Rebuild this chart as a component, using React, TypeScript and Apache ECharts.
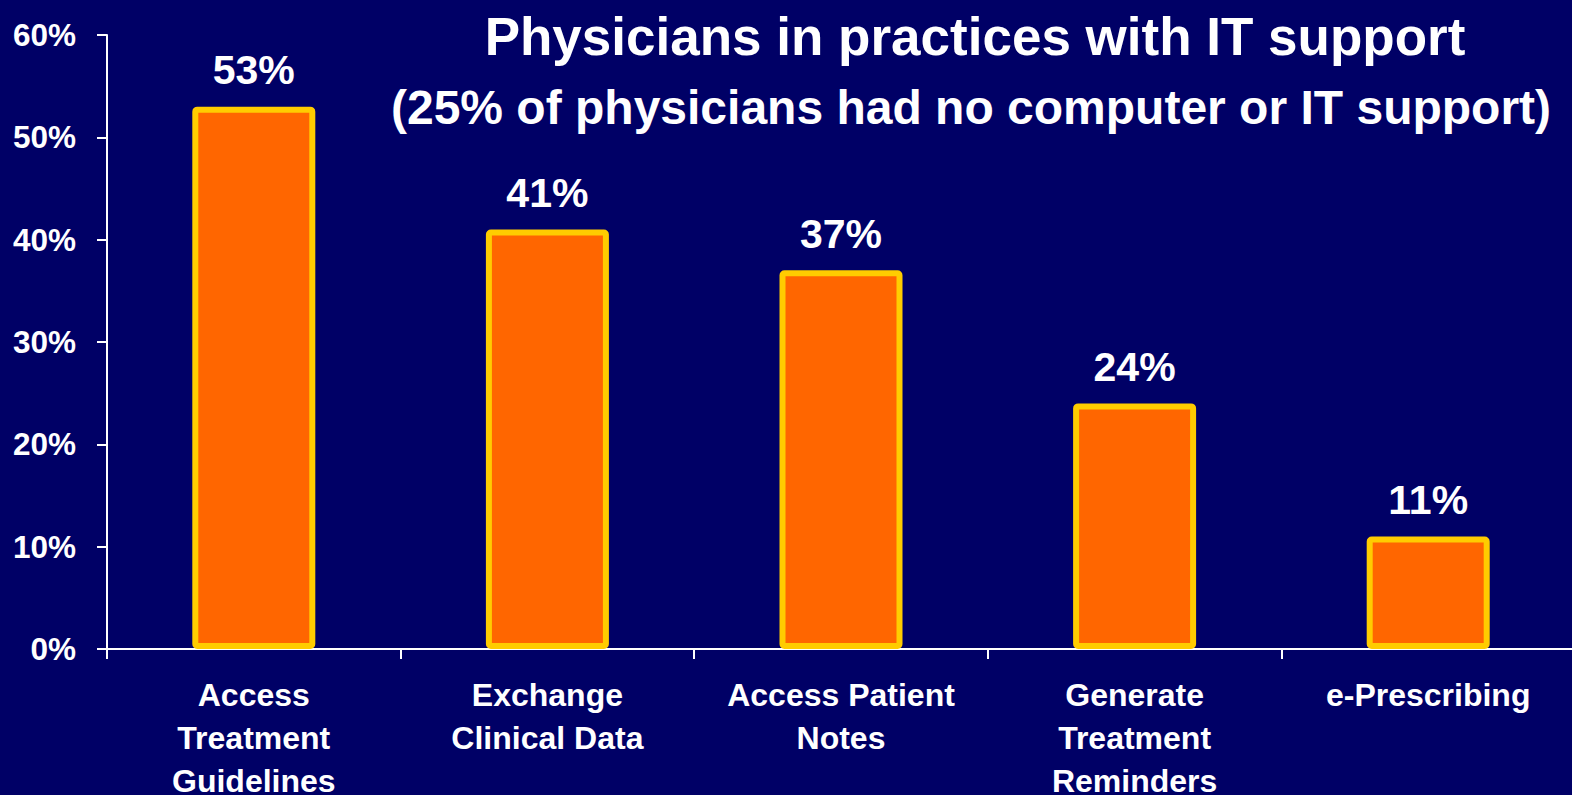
import React, { useEffect, useRef } from "react";
import * as echarts from "echarts";

const categories = [
  "Access\nTreatment\nGuidelines",
  "Exchange\nClinical Data",
  "Access Patient\nNotes",
  "Generate\nTreatment\nReminders",
  "e-Prescribing",
];
const values = [53, 41, 37, 24, 11];
const titleLine1 = "Physicians in practices with IT support";
const titleLine2 = "(25% of physicians had no computer or IT support)";

const FONT = "'Liberation Sans', Arial, sans-serif";

export default function App() {
  const ref = useRef<HTMLDivElement>(null);
  useEffect(() => {
    document.body.style.margin = "0";
    const chart = echarts.init(ref.current!, null, { renderer: "svg" });
    const shadow = {
      fill: "#ffffff",
      textAlign: "center",
      textVerticalAlign: "middle",
      textShadowColor: "#000000",
      textShadowOffsetX: 3,
      textShadowOffsetY: 3,
      textShadowBlur: 0,
    };
    chart.setOption({
      animation: false,
      backgroundColor: "#000066",
      grid: {
        left: 107,
        right: -3,
        top: 35,
        bottom: 146,
        containLabel: false,
        outerBoundsMode: "none",
      },
      xAxis: {
        type: "category",
        data: categories,
        axisLine: { show: true, lineStyle: { color: "#ffffff", width: 2 } },
        axisTick: { show: true, length: 10, lineStyle: { color: "#ffffff", width: 2 } },
        axisLabel: {
          color: "#ffffff",
          fontFamily: FONT,
          fontWeight: "bold",
          fontSize: 32,
          lineHeight: 43,
          margin: 24,
          interval: 0,
        },
      },
      yAxis: {
        type: "value",
        min: 0,
        max: 60,
        interval: 10,
        axisLine: { show: true, lineStyle: { color: "#ffffff", width: 2 } },
        axisTick: { show: true, length: 10, lineStyle: { color: "#ffffff", width: 2 } },
        splitLine: { show: false },
        axisLabel: {
          color: "#ffffff",
          fontFamily: FONT,
          fontWeight: "bold",
          fontSize: 31.5,
          margin: 31,
          formatter: "{value}%",
        },
      },
      series: [
        {
          type: "bar",
          data: values,
          barWidth: 123,
          itemStyle: {
            color: "#FF6600",
            borderColor: "#FFCC00",
            borderWidth: 6,
            borderRadius: 2,
          },
          label: {
            show: true,
            position: "top",
            distance: 16,
            formatter: "{c}%",
            color: "#ffffff",
            fontFamily: FONT,
            fontWeight: "bold",
            fontSize: 41,
          },
        },
      ],
      graphic: [
        {
          type: "text",
          x: 975,
          y: 36,
          style: { ...shadow, text: titleLine1, font: `bold 53px ${FONT}` },
        },
        {
          type: "text",
          x: 971,
          y: 107,
          style: { ...shadow, text: titleLine2, font: `bold 48px ${FONT}` },
        },
      ],
    });
    return () => chart.dispose();
  }, []);
  return (
    <div
      ref={ref}
      style={{ position: "fixed", left: 0, top: 0, width: 1572, height: 795 }}
    />
  );
}
